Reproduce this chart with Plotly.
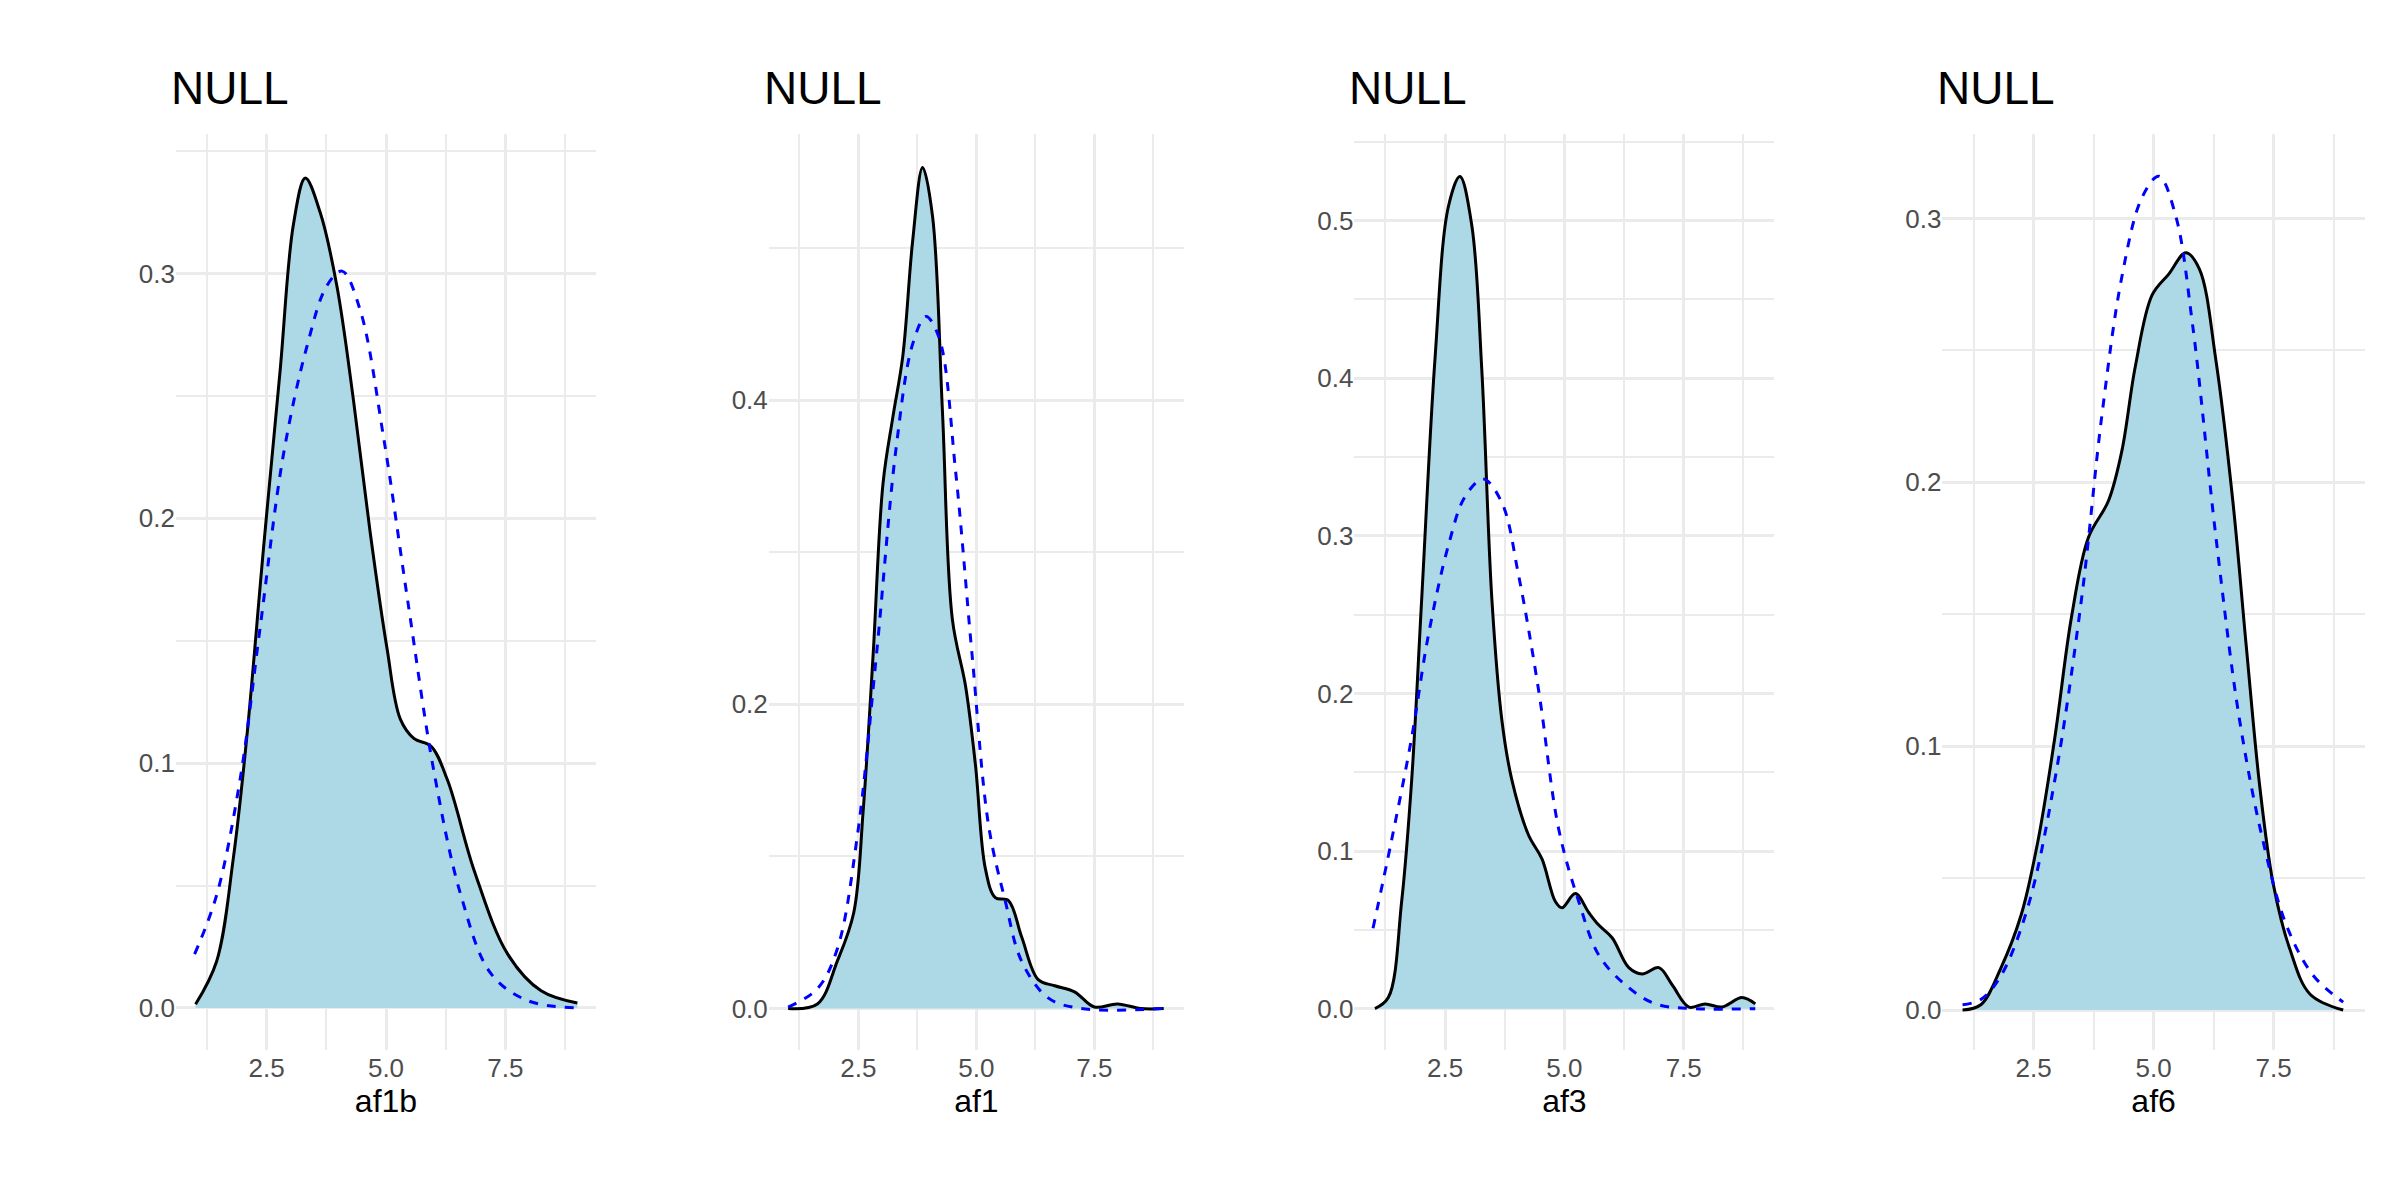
import plotly.graph_objects as go

# density curves (x, density)
af1b_x = [1.01, 1.45, 1.80, 2.08, 2.43, 2.78, 3.06, 3.31, 3.62, 3.97, 4.32, 4.67, 5.02, 5.30, 5.59, 5.94, 6.29, 6.85, 7.55, 8.25, 9.01]
af1b_y = [0.0015, 0.019, 0.061, 0.11, 0.187, 0.26, 0.32, 0.339, 0.325, 0.295, 0.248, 0.194, 0.147, 0.118, 0.110, 0.107, 0.093, 0.056, 0.022, 0.007, 0.002]
af1b_nx = [0.99, 1.45, 1.94, 2.36, 2.85, 3.34, 3.76, 4.08, 4.46, 4.95, 5.45, 6.01, 6.57, 7.20, 7.97, 9.01]
af1b_ny = [0.022, 0.046, 0.093, 0.155, 0.226, 0.27, 0.295, 0.301, 0.285, 0.233, 0.167, 0.096, 0.046, 0.014, 0.003, 0.0]

af1_x = [1.01, 1.63, 2.05, 2.40, 2.60, 2.81, 3.02, 3.23, 3.44, 3.65, 3.86, 4.07, 4.28, 4.49, 4.77, 4.98, 5.19, 5.40, 5.68, 5.96, 6.31, 6.66, 7.08, 7.50, 7.99, 8.48, 8.97]
af1_y = [0.0, 0.003, 0.031, 0.063, 0.13, 0.232, 0.345, 0.389, 0.429, 0.505, 0.553, 0.521, 0.393, 0.256, 0.212, 0.16, 0.092, 0.073, 0.071, 0.047, 0.019, 0.015, 0.011, 0.001, 0.003, 0.0, 0.0]
af1_nx = [1.01, 1.63, 2.05, 2.47, 2.88, 3.30, 3.65, 3.93, 4.21, 4.56, 4.91, 5.26, 5.61, 5.96, 6.52, 7.22, 8.97]
af1_ny = [0.001, 0.013, 0.039, 0.112, 0.232, 0.369, 0.437, 0.455, 0.441, 0.353, 0.232, 0.12, 0.071, 0.031, 0.007, 0.0, 0.0]

af3_x = [1.03, 1.31, 1.59, 1.80, 2.01, 2.29, 2.57, 2.81, 3.06, 3.27, 3.48, 3.69, 3.90, 4.25, 4.53, 4.81, 4.95, 5.23, 5.51, 5.72, 6.00, 6.35, 6.63, 6.98, 7.26, 7.61, 7.95, 8.30, 8.72, 9.0]
af3_y = [0.0, 0.007, 0.068, 0.145, 0.26, 0.413, 0.509, 0.528, 0.497, 0.405, 0.26, 0.183, 0.145, 0.11, 0.095, 0.068, 0.064, 0.073, 0.061, 0.053, 0.045, 0.026, 0.022, 0.026, 0.015, 0.001, 0.003, 0.001, 0.007, 0.003]
af3_nx = [0.99, 1.38, 1.80, 2.15, 2.57, 2.92, 3.30, 3.69, 4.04, 4.46, 4.88, 5.30, 5.72, 6.28, 6.91, 7.75, 9.0]
af3_ny = [0.051, 0.107, 0.172, 0.237, 0.294, 0.325, 0.336, 0.321, 0.275, 0.202, 0.114, 0.068, 0.034, 0.015, 0.003, 0.0, 0.0]

af6_x = [1.02, 1.40, 1.82, 2.24, 2.59, 2.94, 3.29, 3.64, 4.06, 4.34, 4.62, 4.97, 5.32, 5.67, 5.95, 6.30, 6.65, 6.93, 7.21, 7.49, 7.84, 8.26, 8.95]
af6_y = [0.0, 0.002, 0.016, 0.036, 0.064, 0.103, 0.149, 0.179, 0.193, 0.212, 0.244, 0.271, 0.279, 0.287, 0.281, 0.246, 0.193, 0.138, 0.085, 0.048, 0.023, 0.006, 0.0]
af6_nx = [1.02, 1.40, 1.82, 2.38, 2.94, 3.50, 3.92, 4.34, 4.76, 5.11, 5.46, 5.81, 6.30, 6.79, 7.28, 7.77, 8.33, 8.95]
af6_ny = [0.002, 0.004, 0.013, 0.039, 0.087, 0.156, 0.225, 0.278, 0.308, 0.316, 0.301, 0.26, 0.179, 0.11, 0.064, 0.032, 0.013, 0.003]

panels = [
    ("af1b", af1b_x, af1b_y, af1b_nx, af1b_ny, [-0.017, 0.357], 0.1),
    ("af1", af1_x, af1_y, af1_nx, af1_ny, [-0.027, 0.575], 0.2),
    ("af3", af3_x, af3_y, af3_nx, af3_ny, [-0.026, 0.555], 0.1),
    ("af6", af6_x, af6_y, af6_nx, af6_ny, [-0.015, 0.332], 0.1),
]
x_ticks = [2.5, 5.0, 7.5]
x_domains = [[0.070, 0.245], [0.317, 0.490], [0.561, 0.736], [0.806, 0.982]]
y_domain = [0.132, 0.895]

fig = go.Figure()
grid = "#ebebeb"
for i, (name, x, y, nx, ny, yr, dt) in enumerate(panels):
    n = "" if i == 0 else str(i + 1)
    fig.add_trace(go.Scatter(x=x, y=y, mode="lines", fill="tozeroy", fillcolor="#add8e6",
                             line=dict(color="black", width=3, shape="spline"),
                             xaxis="x" + n, yaxis="y" + n, showlegend=False))
    fig.add_trace(go.Scatter(x=nx, y=ny, mode="lines",
                             line=dict(color="blue", width=3, dash="dash", shape="spline"),
                             xaxis="x" + n, yaxis="y" + n, showlegend=False))
    fig.update_layout(**{
        "xaxis" + n: dict(domain=x_domains[i], range=[0.6, 9.4], tickvals=x_ticks,
                          ticktext=["2.5", "5.0", "7.5"], anchor="y" + n,
                          showgrid=True, gridcolor=grid, gridwidth=3, zeroline=False,
                          minor=dict(tickvals=[1.25, 3.75, 6.25, 8.75], showgrid=True,
                                     gridcolor=grid, gridwidth=1.5),
                          tickfont=dict(size=26, color="#4d4d4d"),
                          title=dict(text=name, font=dict(size=32, color="black"), standoff=2)),
        "yaxis" + n: dict(domain=y_domain, range=yr, dtick=dt, anchor="x" + n,
                          showgrid=True, gridcolor=grid, gridwidth=3, zeroline=False,
                          minor=dict(dtick=dt / 2, showgrid=True, gridcolor=grid, gridwidth=1.5),
                          tickformat=".1f", ticks="", ticklen=0,
                          tickfont=dict(size=26, color="#4d4d4d")),
    })
    fig.add_annotation(text="NULL", xref="paper", yref="paper", x=x_domains[i][0] - 0.003,
                       y=0.91, xanchor="left", yanchor="bottom", showarrow=False,
                       font=dict(size=46, color="black"))

fig.update_layout(width=2400, height=1200, margin=dict(l=0, r=0, t=0, b=0),
                  plot_bgcolor="white", paper_bgcolor="white",
                  font=dict(family="Liberation Sans, Arial"))
fig.write_html("out.html")
